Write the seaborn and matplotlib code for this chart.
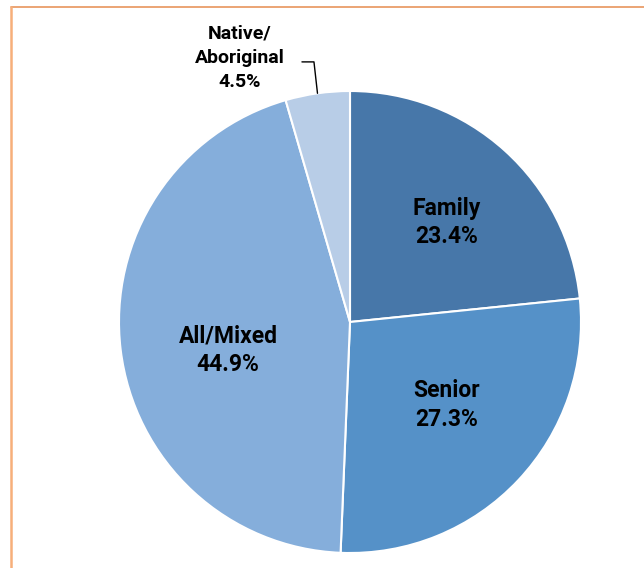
import numpy as np
import matplotlib
matplotlib.use("Agg")
import matplotlib.pyplot as plt
import seaborn as sns
from matplotlib.lines import Line2D

sns.set_style("white")
plt.rcParams['font.family'] = ['Roboto', 'DejaVu Sans']

categories = ["Family", "Senior", "All/Mixed", "Native/\nAboriginal"]
values = [23.4, 27.3, 44.9, 4.5]
colors = ["#4777A9", "#5591C8", "#85AEDB", "#B8CDE7"]

fig = plt.figure(figsize=(6.44, 5.68), dpi=100)
ax = fig.add_axes([119/644, 15/568, 462/644, 462/568])
wedges, _ = ax.pie(values, colors=colors, startangle=90, counterclock=False,
                   radius=1.0, wedgeprops=dict(edgecolor="white", linewidth=1.5))
ax.set_xlim(-1, 1)
ax.set_ylim(-1, 1)
ax.set_aspect("equal")
ax.axis("off")

label_pos = [(0.420, 0.431), (0.420, -0.359), (-0.528, -0.121)]
for i in range(3):
    x, y = label_pos[i]
    ax.text(x, y, f"{categories[i]}\n{values[i]}%",
            ha="center", va="center", fontsize=16.5, fontweight="bold",
            color="black", linespacing=1.3)

# Native label with leader line
w = wedges[3]
ang = np.deg2rad((w.theta1 + w.theta2) / 2)
ex, ey = np.cos(ang), np.sin(ang)
ax.text(-0.476, 1.145, f"{categories[3]}\n{values[3]}%", ha="center", va="center",
        fontsize=14, fontweight="bold", color="black", linespacing=1.45,
        clip_on=False)
ax.plot([-0.208, -0.156, ex], [1.126, 1.126, ey], color="black", lw=1.0,
        clip_on=False)

# frame lines
fig.add_artist(Line2D([10.5/644, 1], [1 - 7/568, 1 - 7/568], color="#E8955C",
                      lw=1.2, transform=fig.transFigure))
fig.add_artist(Line2D([11/644, 11/644], [0, 1 - 7/568], color="#F7AF7A",
                      lw=1.8, transform=fig.transFigure))

fig.savefig("out.png", dpi=100)
